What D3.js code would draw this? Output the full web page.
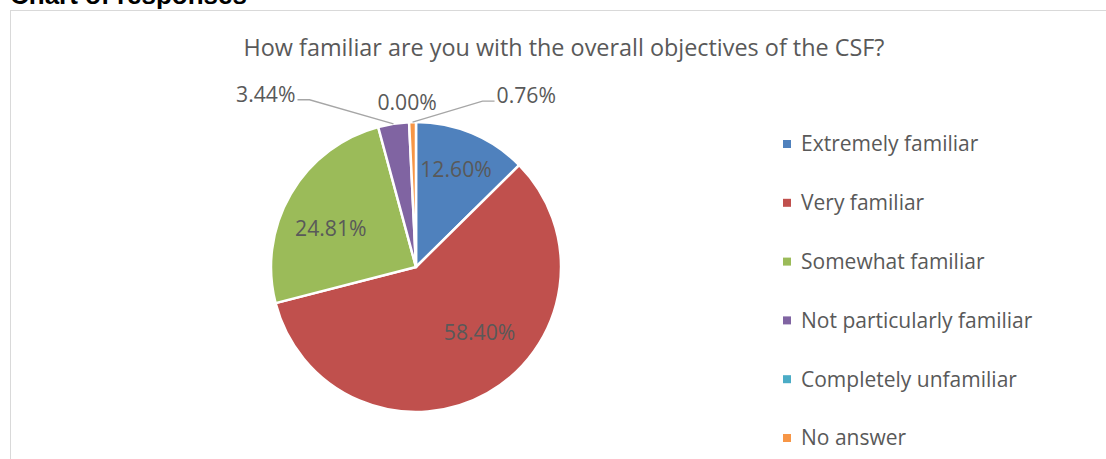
<!DOCTYPE html>
<html>
<head>
<meta charset="utf-8">
<script src="https://cdn.jsdelivr.net/npm/d3@7"></script>
<style>
  html, body { margin: 0; padding: 0; background: #fff; }
  svg { display: block; }
</style>
</head>
<body>
<svg id="chart" width="1106" height="459"></svg>
<script>
// Survey responses: "How familiar are you with the overall objectives of the CSF?"
const categories = [
  "Extremely familiar",
  "Very familiar",
  "Somewhat familiar",
  "Not particularly familiar",
  "Completely unfamiliar",
  "No answer"
];
const percentages = [12.60, 58.40, 24.81, 3.44, 0.00, 0.76];
const colors = ["#4F81BD", "#C0504D", "#9BBB59", "#8064A2", "#4BACC6", "#F79646"];

const chartTitle = "How familiar are you with the overall objectives of the CSF?";
const heading = "Chart of responses";

const FONT = "'Open Sans', 'Noto Sans', sans-serif";
const TEXT = "#595959";

const svg = d3.select("#chart");

// Page heading above the chart frame (partly clipped by the top edge)
svg.append("text")
  .attr("x", 10).attr("y", 4)
  .attr("font-family", "'Liberation Sans', Arial, sans-serif")
  .attr("font-weight", "bold")
  .attr("font-size", 26)
  .attr("fill", "#000")
  .text(heading);

// Chart frame
svg.append("rect")
  .attr("x", 10.5).attr("y", 10.5)
  .attr("width", 1200).attr("height", 600)
  .attr("fill", "#fff")
  .attr("stroke", "#D9D9D9")
  .attr("stroke-width", 1);

// Title
svg.append("text")
  .attr("x", 564).attr("y", 56)
  .attr("text-anchor", "middle")
  .attr("font-family", FONT)
  .attr("font-size", 23.4)
  .attr("fill", TEXT)
  .text(chartTitle);

// Pie
const cx = 416, cy = 267, R = 145;
const data = categories.map((c, i) => ({ name: c, value: percentages[i], color: colors[i] }));
const pie = d3.pie().sort(null).value(d => d.value);
const arcs = pie(data);
const arc = d3.arc().innerRadius(0).outerRadius(R);
const labelArc = d3.arc().innerRadius(R * 0.68).outerRadius(R * 0.68);

const g = svg.append("g").attr("transform", `translate(${cx},${cy})`);

g.selectAll("path.slice")
  .data(arcs.filter(a => a.data.value > 0))
  .join("path")
  .attr("class", "slice")
  .attr("d", arc)
  .attr("fill", d => d.data.color)
  .attr("stroke", "#fff")
  .attr("stroke-width", 2.5)
  .attr("stroke-linejoin", "round");

// Labels inside the larger slices (best-fit offsets from the centroid)
const insideNudge = {
  "Extremely familiar": [2, -6],
  "Very familiar": [15, -20],
  "Somewhat familiar": [0, 11]
};
const fmt = v => v.toFixed(2) + "%";
const LABEL_SIZE = 21.2;

arcs.filter(a => a.data.value >= 10).forEach(a => {
  const [x, y] = labelArc.centroid(a);
  const n = insideNudge[a.data.name] || [0, 0];
  g.append("text")
    .attr("x", x + n[0]).attr("y", y + n[1])
    .attr("dy", "0.35em")
    .attr("text-anchor", "middle")
    .attr("font-family", FONT)
    .attr("font-size", LABEL_SIZE)
    .attr("fill", TEXT)
    .text(fmt(a.data.value));
});

// Labels outside the small slices, with leader lines where needed
const outsideLayout = {
  "Not particularly familiar": { elbow: [-84, -24], side: -1, leader: true },
  "Completely unfamiliar":     { elbow: [-2, -20], side: 0, leader: false },
  "No answer":                 { elbow: [70, -21], side: 1, leader: true }
};

arcs.filter(a => a.data.value < 10).forEach(a => {
  const L = outsideLayout[a.data.name];
  const mid = (a.startAngle + a.endAngle) / 2;
  const ox = R * Math.sin(mid), oy = -R * Math.cos(mid);
  const ex = ox + L.elbow[0], ey = oy + L.elbow[1];
  if (L.leader) {
    const hx = ex + L.side * 12;
    g.append("polyline")
      .attr("points", `${ox},${oy} ${ex},${ey} ${hx},${ey}`)
      .attr("fill", "none")
      .attr("stroke", "#A6A6A6")
      .attr("stroke-width", 1.3);
    g.append("text")
      .attr("x", hx + L.side * 2).attr("y", ey - 5)
      .attr("dy", "0.35em")
      .attr("text-anchor", L.side < 0 ? "end" : "start")
      .attr("font-family", FONT)
      .attr("font-size", LABEL_SIZE)
      .attr("fill", TEXT)
      .text(fmt(a.data.value));
  } else {
    g.append("text")
      .attr("x", ox + L.elbow[0]).attr("y", oy + L.elbow[1])
      .attr("dy", "0.35em")
      .attr("text-anchor", "middle")
      .attr("font-family", FONT)
      .attr("font-size", LABEL_SIZE)
      .attr("fill", TEXT)
      .text(fmt(a.data.value));
  }
});

// Legend
const legendY = d3.scalePoint().domain(categories).range([144, 438]);
const legend = svg.append("g");
categories.forEach((c, i) => {
  const y = legendY(c);
  legend.append("rect")
    .attr("x", 783).attr("y", y - 4)
    .attr("width", 8).attr("height", 8)
    .attr("fill", colors[i]);
  legend.append("text")
    .attr("x", 801).attr("y", y)
    .attr("dy", "0.35em")
    .attr("font-family", FONT)
    .attr("font-size", 21)
    .attr("fill", TEXT)
    .text(c);
});
</script>
</body>
</html>
